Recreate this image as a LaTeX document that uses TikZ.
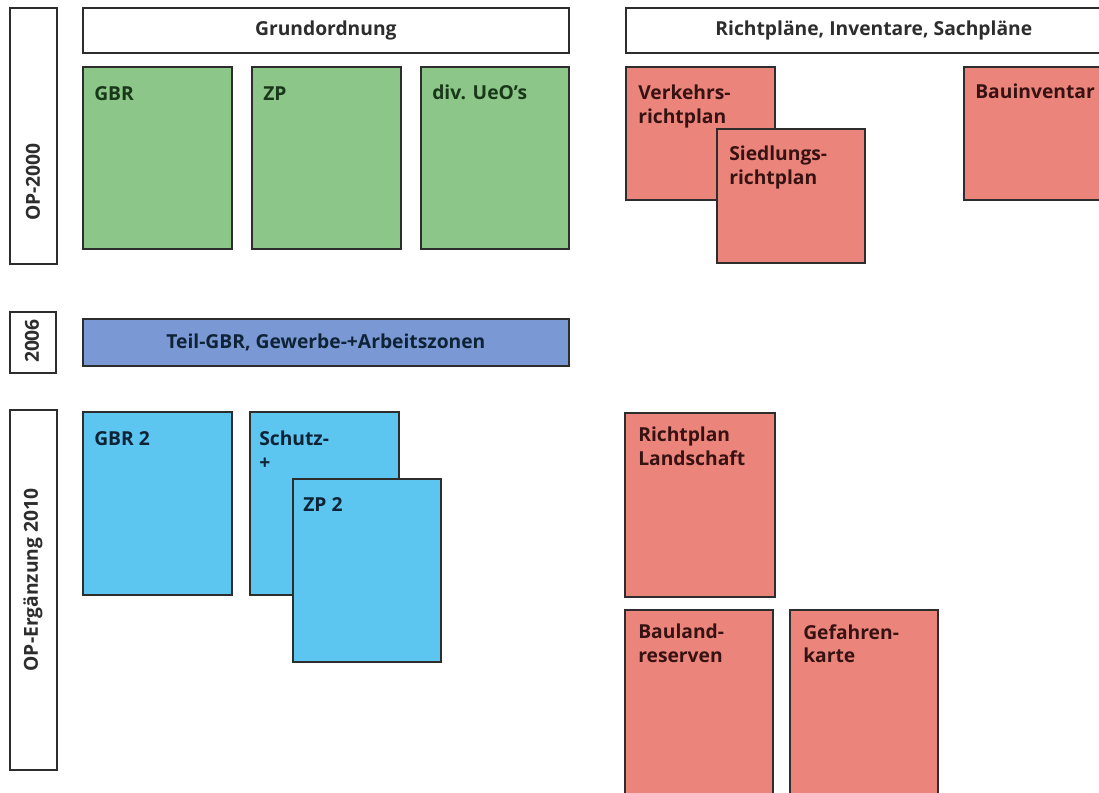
\documentclass[tikz,border=0pt]{standalone}
\usepackage{fontspec}
\setmainfont{Open Sans}
\definecolor{linec}{RGB}{45,45,45}
\definecolor{gfill}{RGB}{140,198,137}
\definecolor{rfill}{RGB}{235,133,123}
\definecolor{bfill}{RGB}{92,197,240}
\definecolor{barfill}{RGB}{122,152,212}
\definecolor{gtext}{RGB}{25,55,25}
\definecolor{rtext}{RGB}{55,18,18}
\definecolor{btext}{RGB}{15,35,55}
\newcommand\pxl{0.25mm}
\tikzset{
  frame/.style={draw=linec, line width=1.2pt, anchor=north west, inner sep=0pt, fill=white},
  gplan/.style={frame, fill=gfill},
  rplan/.style={frame, fill=rfill},
  bplan/.style={frame, fill=bfill},
  txt/.style={anchor=north west, inner sep=0pt, align=left,
    font=\bfseries\fontsize{13.7}{17}\selectfont},
}
\begin{document}
\begin{tikzpicture}[x=0.25mm, y=-0.25mm]
		\useasboundingbox (0,0) rectangle (1099,792);
		\clip (0,0) rectangle (1099,792);
		% Zeitachse links
		\node[frame, minimum width=47*\pxl, minimum height=256*\pxl] (op2000) at (9,7) {};
		\node[frame, minimum width=46*\pxl, minimum height=61*\pxl] (y2006) at (9,311) {};
		\node[frame, minimum width=47*\pxl, minimum height=360*\pxl] (op2010) at (9,409) {};
		\node[txt, anchor=center, rotate=90, text=linec] (op2000T) at (33,182) {OP-2000};
		\node[txt, anchor=center, rotate=90, text=linec] (y2006T) at (32,341) {2006};
		\node[txt, anchor=center, rotate=90, text=linec] (op2010T) at (33,580) {OP-Ergänzung 2010};
		
		% Titelzeilen
		\node[frame, txt, draw=linec, fill=white, text=linec, align=center, minimum width=486*\pxl, minimum height=45*\pxl] (grund) at (82,7) {Grundordnung};
		\node[frame, txt, draw=linec, fill=white, text=linec, align=center, minimum width=496*\pxl, minimum height=45*\pxl] (richt) at (625,7) {Richtpläne, Inventare, Sachpläne};
		
		% OP-2000
		\node[gplan, minimum width=149*\pxl, minimum height=182*\pxl] (gbr) at (82,66) {};
		\node[gplan, minimum width=149*\pxl, minimum height=182*\pxl] (zp) at (251,66) {};
		\node[gplan, minimum width=148*\pxl, minimum height=182*\pxl] (ueo) at (420,66) {};
		\node[txt, text=gtext] (gbrT) at ([shift={(12,20)}]gbr.north west) {GBR};
		\node[txt, text=gtext] (zpT) at ([shift={(12,20)}]zp.north west) {ZP};
		\node[txt, text=gtext] (ueoT) at ([shift={(12,19)}]ueo.north west) {div. UeO’s};
		
		\node[rplan, minimum width=149*\pxl, minimum height=133*\pxl] (verk) at (625,66) {};
		\node[rplan, minimum width=148*\pxl, minimum height=134*\pxl] (sied) at (716,128) {};
		\node[rplan, minimum width=150*\pxl, minimum height=133*\pxl] (bauinv) at (963,66) {};
		\node[txt, text=rtext] (verkT) at ([shift={(13,19)}]verk.north west) {Verkehrs-\\richtplan};
		\node[txt, text=rtext] (siedT) at ([shift={(13,18)}]sied.north west) {Siedlungs-\\richtplan};
		\node[txt, text=rtext] (bauinvT) at ([shift={(12,18)}]bauinv.north west) {Bauinventar};
		
		% 2006
		\node[frame, txt, fill=barfill, text=btext, align=center, minimum width=486*\pxl, minimum height=47*\pxl] (teil) at (82,318) {Teil-GBR, Gewerbe-+Arbeitszonen};
		
		% OP-Ergaenzung 2010
		\node[bplan, minimum width=149*\pxl, minimum height=183*\pxl] (gbr2) at (82,411) {};
		\node[bplan, minimum width=149*\pxl, minimum height=183*\pxl] (schutz) at (249,411) {};
		\node[bplan, minimum width=148*\pxl, minimum height=183*\pxl] (zp2) at (292,478) {};
		\node[txt, text=btext] (gbr2T) at ([shift={(12,20)}]gbr2.north west) {GBR 2};
		\node[txt, text=btext] (schutzT) at ([shift={(10,20)}]schutz.north west) {Schutz-\\+};
		\node[txt, text=btext] (zp2T) at ([shift={(11,19)}]zp2.north west) {ZP 2};
		
		\node[rplan, minimum width=150*\pxl, minimum height=184*\pxl] (rland) at (624,412) {};
		\node[rplan, minimum width=148*\pxl, minimum height=200*\pxl] (bauland) at (624,609) {};
		\node[rplan, minimum width=148*\pxl, minimum height=200*\pxl] (gefahr) at (789,609) {};
		\node[txt, text=rtext] (rlandT) at ([shift={(14,15)}]rland.north west) {Richtplan\\Landschaft};
		\node[txt, text=rtext] (baulandT) at ([shift={(14,15)}]bauland.north west) {Bauland-\\reserven};
		\node[txt, text=rtext] (gefahrT) at ([shift={(14,15)}]gefahr.north west) {Gefahren-\\karte};
		\end{tikzpicture}
\end{document}
